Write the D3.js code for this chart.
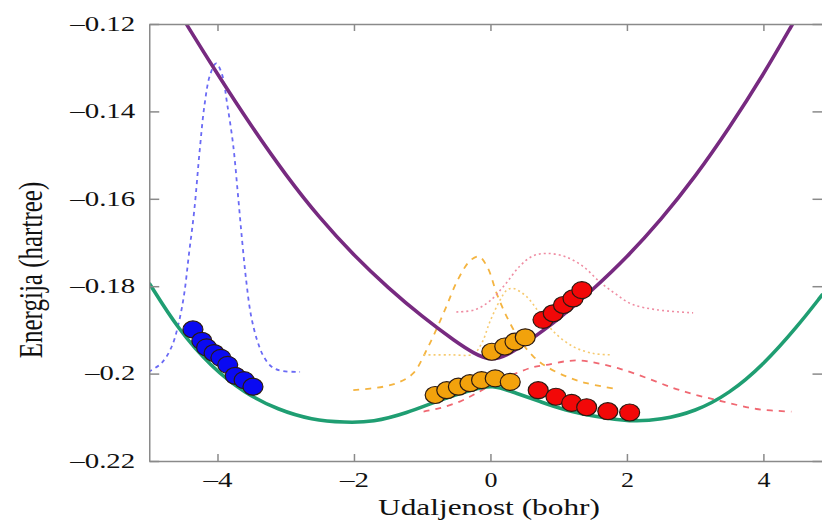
<!DOCTYPE html>
<html>
<head>
<meta charset="utf-8">
<script src="https://cdn.jsdelivr.net/npm/d3@7"></script>
<style>
  html, body { margin: 0; padding: 0; background: #fff; }
  svg { display: block; }
  text { font-family: "Liberation Serif", "DejaVu Serif", serif; fill: #111; }
</style>
</head>
<body>
<svg id="chart" width="822" height="522"></svg>
<script>
// ---------- DATA ----------
const xTicks = [-4, -2, 0, 2, 4];
const xTickLabels = ["\u20134", "\u20132", "0", "2", "4"];
const yTicks = [-0.22, -0.20, -0.18, -0.16, -0.14, -0.12];
const yTickLabels = ["\u20130.22", "\u20130.2", "\u20130.18", "\u20130.16", "\u20130.14", "\u20130.12"];
const xLabel = "Udaljenost (bohr)";
const yLabel = "Energija (hartree)";

// lower (green) potential energy curve  [x, E]
const lowerCurve = [
  [-5.00,-0.1793],[-4.57,-0.1900],[-4.09,-0.1985],[-3.60,-0.2045],[-3.11,-0.2083],
  [-2.62,-0.2106],[-2.13,-0.2112],[-1.72,-0.2111],[-1.23,-0.2091],[-0.74,-0.2060],
  [-0.25,-0.2036],[0.02,-0.2025],[0.38,-0.2045],[0.73,-0.2064],[1.07,-0.2083],
  [1.56,-0.2099],[2.04,-0.2110],[2.50,-0.2106],[3.00,-0.2087],[3.50,-0.2046],
  [4.00,-0.1980],[4.50,-0.1892],[4.87,-0.1818]
];
// upper (purple) potential energy curve
const upperCurve = [
  [-4.65,-0.1150],[-4.45,-0.1202],[-4.00,-0.1315],[-3.50,-0.1435],[-3.00,-0.1546],
  [-2.50,-0.1645],[-2.00,-0.1730],[-1.50,-0.1804],[-1.00,-0.1870],[-0.50,-0.1928],
  [-0.25,-0.1953],[0.00,-0.1971],[0.25,-0.1958],[0.50,-0.1932],[1.00,-0.1876],
  [1.50,-0.1808],[2.00,-0.1734],[2.50,-0.1648],[3.00,-0.1550],[3.50,-0.1438],
  [4.00,-0.1316],[4.42,-0.1202],[4.62,-0.1148]
];
// blue dotted wave packet
const blueWave = [
  [-5.01,-0.1996],[-4.82,-0.1976],[-4.67,-0.1938],[-4.57,-0.1885],[-4.49,-0.1820],
  [-4.42,-0.1729],[-4.34,-0.1626],[-4.26,-0.1488],[-4.19,-0.1385],[-4.11,-0.1317],
  [-4.02,-0.1290],[-3.93,-0.1317],[-3.86,-0.1381],[-3.77,-0.1477],[-3.70,-0.1591],
  [-3.64,-0.1694],[-3.58,-0.1786],[-3.51,-0.1866],[-3.42,-0.1923],[-3.32,-0.1962],
  [-3.20,-0.1985],[-3.05,-0.1994],[-2.79,-0.1996]
];
// orange dashed wave packet
const orangeWaveDashed = [
  [-2.01,-0.2038],[-1.57,-0.2030],[-1.33,-0.2019],[-1.13,-0.1999],[-0.92,-0.1941],
  [-0.68,-0.1859],[-0.48,-0.1786],[-0.30,-0.1742],[-0.17,-0.1732],[-0.04,-0.1758],
  [0.09,-0.1816],[0.24,-0.1870],[0.43,-0.1923],[0.63,-0.1961],[0.82,-0.1984],
  [1.12,-0.2007],[1.41,-0.2022],[1.80,-0.2034]
];
// orange dotted wave packet
const orangeWaveDotted = [
  [-0.98,-0.1957],[-0.59,-0.1957],[-0.25,-0.1955],[-0.12,-0.1928],[-0.01,-0.1882],
  [0.14,-0.1832],[0.24,-0.1809],[0.33,-0.1805],[0.53,-0.1824],[0.73,-0.1864],
  [0.92,-0.1903],[1.21,-0.1938],[1.51,-0.1954],[1.75,-0.1957]
];
// pink dotted wave packet
const pinkWaveDotted = [
  [-0.50,-0.1859],[-0.23,-0.1854],[-0.01,-0.1834],[0.21,-0.1797],[0.43,-0.1754],
  [0.62,-0.1731],[0.82,-0.1725],[1.09,-0.1732],[1.36,-0.1755],[1.60,-0.1790],
  [1.82,-0.1816],[2.07,-0.1841],[2.44,-0.1854],[2.97,-0.1861]
];
// red dashed wave packet
const redWaveDashed = [
  [-0.98,-0.2087],[-0.74,-0.2079],[-0.45,-0.2064],[-0.23,-0.2047],[-0.01,-0.2028],
  [0.21,-0.2010],[0.43,-0.1996],[0.63,-0.1985],[0.82,-0.1980],[1.09,-0.1972],
  [1.31,-0.1970],[1.56,-0.1976],[1.90,-0.1989],[2.29,-0.2010],[2.68,-0.2033],
  [3.02,-0.2049],[3.41,-0.2064],[3.90,-0.2081],[4.41,-0.2087]
];
// trajectory points
const bluePoints = [
  [-4.36,-0.1899],[-4.23,-0.1925],[-4.16,-0.1940],[-4.05,-0.1953],[-3.95,-0.1964],
  [-3.85,-0.1980],[-3.74,-0.2005],[-3.61,-0.2015],[-3.48,-0.2030]
];
const orangeLowerPoints = [
  [-0.81,-0.2049],[-0.64,-0.2038],[-0.47,-0.2030],[-0.30,-0.2022],[-0.13,-0.2015],
  [0.07,-0.2011],[0.29,-0.2019]
];
const orangeUpperPoints = [[0.02,-0.1950],[0.21,-0.1938],[0.36,-0.1927],[0.51,-0.1917]];
const redUpperPoints = [[0.77,-0.1877],[0.92,-0.1862],[1.07,-0.1843],[1.21,-0.1828],[1.34,-0.1809]];
const redLowerPoints = [[0.70,-0.2038],[0.96,-0.2053],[1.19,-0.2067],[1.41,-0.2077],[1.72,-0.2086],[2.04,-0.2089]];

// ---------- CHART ----------
const svg = d3.select("#chart");
const plot = {left: 149.25, right: 822.5, top: 24, bottom: 461};
const x = d3.scaleLinear().domain([-5, 4.866]).range([plot.left, plot.right]);
const y = d3.scaleLinear().domain([-0.22, -0.12]).range([plot.bottom, plot.top]);
const axisColor = "#8a8a8a";

svg.append("defs").append("clipPath").attr("id", "clip")
  .append("rect").attr("x", plot.left).attr("y", plot.top)
  .attr("width", plot.right - plot.left).attr("height", plot.bottom - plot.top);

const g = svg.append("g").attr("clip-path", "url(#clip)");
const waveLine = d3.line().x(d => x(d[0])).y(d => y(d[1])).curve(d3.curveCatmullRom.alpha(0.5));
const smoothLine = d3.line().x(d => x(d[0])).y(d => y(d[1])).curve(d3.curveBasis);

function drawLine(data, gen, color, width, dash) {
  g.append("path").datum(data)
    .attr("d", gen).attr("fill", "none")
    .attr("stroke", color).attr("stroke-width", width)
    .attr("stroke-dasharray", dash || null)
    .attr("stroke-linecap", "butt");
}

// wave packets
drawLine(blueWave, waveLine, "#6a6af5", 1.8, "4,4");
drawLine(orangeWaveDashed, waveLine, "#f4b440", 1.8, "6,6");
drawLine(orangeWaveDotted, waveLine, "#f6ca70", 1.6, "2,3");
drawLine(pinkWaveDotted, waveLine, "#ef8ca2", 1.6, "2,3");
drawLine(redWaveDashed, waveLine, "#f06872", 1.8, "6,6");

// potential energy surfaces
drawLine(lowerCurve, smoothLine, "#1f9e72", 3.6);
drawLine(upperCurve, smoothLine, "#772a80", 3.6);

// trajectory points
function drawPoints(data, fill) {
  g.append("g").selectAll("ellipse").data(data).join("ellipse")
    .attr("cx", d => x(d[0])).attr("cy", d => y(d[1]))
    .attr("rx", 10).attr("ry", 8.5)
    .attr("fill", fill).attr("stroke", "#2b1a12").attr("stroke-width", 1.2);
}
drawPoints(bluePoints, "#0a0af2");
drawPoints(orangeLowerPoints, "#f2a20c");
drawPoints(orangeUpperPoints, "#f2a20c");
drawPoints(redUpperPoints, "#f20808");
drawPoints(redLowerPoints, "#f20808");

// ---------- AXES ----------
function styleAxis(sel) {
  sel.selectAll("path.domain").attr("stroke", axisColor).attr("stroke-width", 1.5);
  sel.selectAll(".tick line").attr("stroke", axisColor).attr("stroke-width", 1.5);
}

const yAxis = svg.append("g").attr("transform", `translate(${plot.left},0)`)
  .call(d3.axisLeft(y).tickValues(yTicks).tickSize(-10).tickSizeOuter(0)
    .tickPadding(14).tickFormat((d, i) => yTickLabels[i]));
styleAxis(yAxis);
yAxis.selectAll(".tick text")
  .attr("font-size", 21).attr("font-family", "Liberation Serif, serif").attr("fill", "#111")
  .attr("dy", "0.3em")
  .attr("lengthAdjust", "spacingAndGlyphs")
  .attr("textLength", (d, i) => yTickLabels[i].length === 5 ? 65 : 50);

const xAxis = svg.append("g").attr("transform", `translate(0,${plot.bottom})`)
  .call(d3.axisBottom(x).tickValues(xTicks).tickSize(-7).tickSizeOuter(0)
    .tickPadding(11).tickFormat((d, i) => xTickLabels[i]));
styleAxis(xAxis);
xAxis.selectAll(".tick text")
  .attr("font-size", 21).attr("font-family", "Liberation Serif, serif").attr("fill", "#111")
  .attr("lengthAdjust", "spacingAndGlyphs")
  .attr("textLength", (d, i) => xTickLabels[i].length === 2 ? 29 : 13);

const topAxis = svg.append("g").attr("transform", `translate(0,${plot.top})`)
  .call(d3.axisTop(x).tickValues(xTicks).tickSize(-7).tickSizeOuter(0).tickFormat(""));
styleAxis(topAxis);

const rightAxis = svg.append("g").attr("transform", `translate(${plot.right},0)`)
  .call(d3.axisRight(y).tickValues(yTicks).tickSize(-10).tickSizeOuter(0).tickFormat(""));
styleAxis(rightAxis);

// axis titles
svg.append("text")
  .attr("x", 489).attr("y", 515)
  .attr("text-anchor", "middle").attr("font-size", 24)
  .attr("lengthAdjust", "spacingAndGlyphs").attr("textLength", 222)
  .text(xLabel);

svg.append("text")
  .attr("transform", "translate(42,270) scale(1.35,1) rotate(-90)")
  .attr("text-anchor", "middle").attr("font-size", 25)
  .text(yLabel);
</script>
</body>
</html>
